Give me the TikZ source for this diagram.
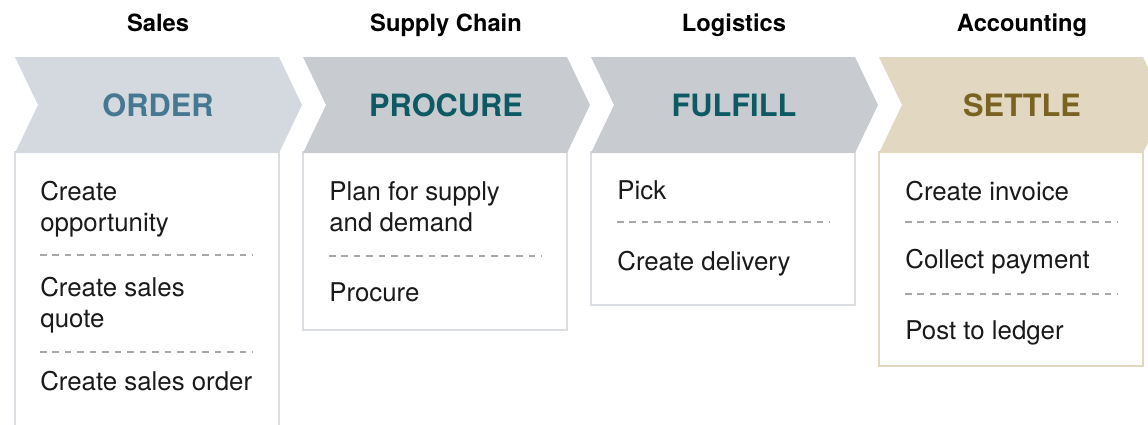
\documentclass[tikz,border=0pt]{standalone}
\usepackage{fontspec}
\setmainfont{TeX Gyre Heros}
\definecolor{ordercol}{HTML}{D4D9E0}
\definecolor{ordertxt}{HTML}{467892}
\definecolor{midcol}{HTML}{C8CCD1}
\definecolor{midtxt}{HTML}{0D5964}
\definecolor{settlecol}{HTML}{E2D8C2}
\definecolor{settletxt}{HTML}{7A6322}
\definecolor{cardcol}{HTML}{DADDE1}
\definecolor{sepcol}{HTML}{A8A8A8}
\definecolor{bodytxt}{HTML}{1A1A1A}

\begin{document}
\begin{tikzpicture}[
    x=0.02cm, y=-0.02cm,
    % ── Node Styles ──
    dept/.style={font=\fontsize{13.5}{16}\selectfont\bfseries, anchor=base, inner sep=0pt},
    phase/.style={font=\fontsize{17.5}{20}\selectfont\bfseries, anchor=base, inner sep=0pt},
    item/.style={font=\fontsize{14.7}{17.6}\selectfont, text=bodytxt,
        align=left, anchor=base west, inner sep=0pt},
    % ── Shape Styles ──
    card/.style={draw=cardcol, line width=1.1pt, fill=white},
    sep/.style={draw=sepcol, line width=0.6pt, dash pattern=on 3.7pt off 3.4pt},
]
\useasboundingbox (0,0) rectangle (1148,424);
\clip (0,0) rectangle (1148,424);

% ────────────────────────────────
%  CARDS (below the chevrons)
% ────────────────────────────────
\draw[card] (15,152) rectangle (279,440);
\draw[card] (303,152) rectangle (567,330);
\draw[card] (591,152) rectangle (855,305);
\draw[card, draw=settlecol] (879,152) rectangle (1143,366);

% ────────────────────────────────
%  CHEVRONS
% ────────────────────────────────
\fill[ordercol]  (15,57) -- ++(264,0) -- ++(23,48) -- ++(-23,48) -- ++(-264,0) -- ++(23,-48) -- cycle;
\fill[midcol]    (303,57) -- ++(264,0) -- ++(23,48) -- ++(-23,48) -- ++(-264,0) -- ++(23,-48) -- cycle;
\fill[midcol]    (591,57) -- ++(264,0) -- ++(23,48) -- ++(-23,48) -- ++(-264,0) -- ++(23,-48) -- cycle;
\fill[settlecol] (879,57) -- ++(264,0) -- ++(23,48) -- ++(-23,48) -- ++(-264,0) -- ++(23,-48) -- cycle;

\node[phase, text=ordertxt]  (order)   at (158,116.5)  {ORDER};
\node[phase, text=midtxt]    (procure) at (446,116.5)  {PROCURE};
\node[phase, text=midtxt]    (fulfill) at (734,116.5)  {FULFILL};
\node[phase, text=settletxt] (settle)  at (1022,116.5) {SETTLE};

% ────────────────────────────────
%  DEPARTMENTS
% ────────────────────────────────
\node[dept] (sales)      at (158,31.5)  {Sales};
\node[dept] (supply)     at (446,31.5)  {Supply Chain};
\node[dept] (logistics)  at (734,31.5)  {Logistics};
\node[dept] (accounting) at (1022,31.5) {Accounting};

% ────────────────────────────────
%  STEPS (two-line items sit on their last baseline)
% ────────────────────────────────
% Order
\node[item] (o1) at (40,231) {Create\\opportunity};
\draw[sep] (40,255) -- (253,255);
\node[item] (o2) at (40,327) {Create sales\\quote};
\draw[sep] (40,352) -- (253,352);
\node[item] (o3) at (40,390) {Create sales order};

% Procure
\node[item] (p1) at (329,231) {Plan for supply\\and demand};
\draw[sep] (329,256) -- (542,256);
\node[item] (p2) at (329,301) {Procure};

% Fulfill
\node[item] (f1) at (617,199) {Pick};
\draw[sep] (617,222) -- (830,222);
\node[item] (f2) at (617,270) {Create delivery};

% Settle
\node[item] (s1) at (905,200) {Create invoice};
\draw[sep] (905,222) -- (1118,222);
\node[item] (s2) at (905,268) {Collect payment};
\draw[sep] (905,294) -- (1118,294);
\node[item] (s3) at (905,339) {Post to ledger};

\end{tikzpicture}
\end{document}
